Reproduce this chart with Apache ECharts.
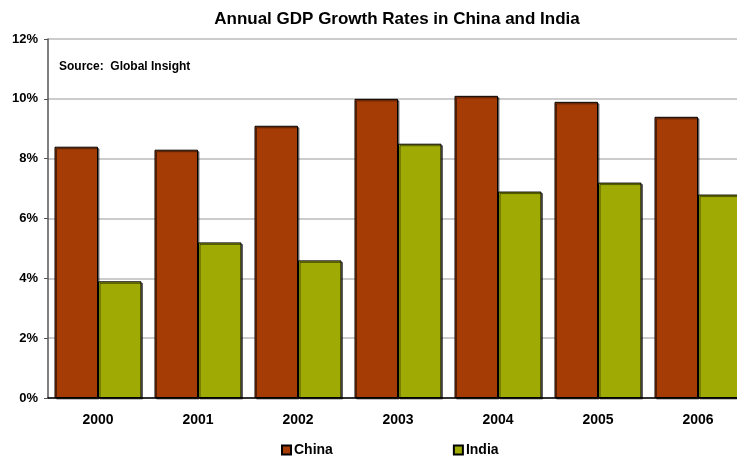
<!DOCTYPE html>
<html><head><meta charset="utf-8">
<script src="https://cdn.jsdelivr.net/npm/echarts@6/dist/echarts.min.js"></script>
<style>html,body{margin:0;padding:0;background:#fff;overflow:hidden;width:737px;height:463px}#c{width:760px;height:463px}</style>
</head><body><div id="c"></div>
<script>
const categories = ['2000','2001','2002','2003','2004','2005','2006'];
const china = [8.4, 8.3, 9.1, 10.0, 10.1, 9.9, 9.4];
const india = [3.9, 5.2, 4.6, 8.5, 6.9, 7.2, 6.8];
const titleText = 'Annual GDP Growth Rates in China and India';
const sourceText = 'Source:  Global Insight';

const chart = echarts.init(document.getElementById('c'));
const font = 'Liberation Sans, Arial, sans-serif';
chart.setOption({
  animation: false,
  title: [{
    text: titleText, left: 392, top: 6, textAlign: 'center',
    textStyle: {fontFamily: font, fontSize: 17, fontWeight: 'bold', color: '#000'}
  }],
  graphic: [{
    type: 'text', left: 59, top: 61,
    style: {text: sourceText, fontFamily: font, fontSize: 12, fontWeight: 'bold', fill: '#000'}
  }],
  legend: {
    data: ['China','India'], bottom: 1, left: 276, itemGap: 120,
    itemWidth: 9, itemHeight: 9, icon: 'rect',
    textStyle: {fontFamily: font, fontSize: 14, fontWeight: 'bold', color: '#000', padding: [0,0,0,-2]}
  },
  grid: {left: 48, top: 39, width: 700, height: 359, containLabel: false},
  xAxis: {
    type: 'category', data: categories,
    axisLine: {lineStyle: {color: '#000', width: 1.5}},
    axisTick: {show: false},
    axisLabel: {fontFamily: font, fontSize: 14, fontWeight: 'bold', color: '#000', margin: 15}
  },
  yAxis: {
    type: 'value', min: 0, max: 12, interval: 2,
    axisLine: {show: true, lineStyle: {color: '#555', width: 1.5}},
    axisTick: {show: true, length: 4, lineStyle: {color: '#555'}},
    splitLine: {lineStyle: {color: '#bbb', width: 1.5}},
    axisLabel: {fontFamily: font, fontSize: 13, fontWeight: 'bold', color: '#000', margin: 10,
      formatter: v => v + '%'}
  },
  series: [
    {name: 'China', type: 'bar', data: china, barGap: '0%', barCategoryGap: '13%',
     itemStyle: {color: '#A53C06', borderColor: '#000', borderWidth: 1,
       shadowColor: 'rgba(0,0,0,0.5)', shadowOffsetX: 1.5, shadowOffsetY: 1.5}},
    {name: 'India', type: 'bar', data: india,
     itemStyle: {color: '#9FAA04', borderColor: '#000', borderWidth: 1,
       shadowColor: 'rgba(0,0,0,0.5)', shadowOffsetX: 1.5, shadowOffsetY: 1.5}}
  ]
});
</script></body></html>
